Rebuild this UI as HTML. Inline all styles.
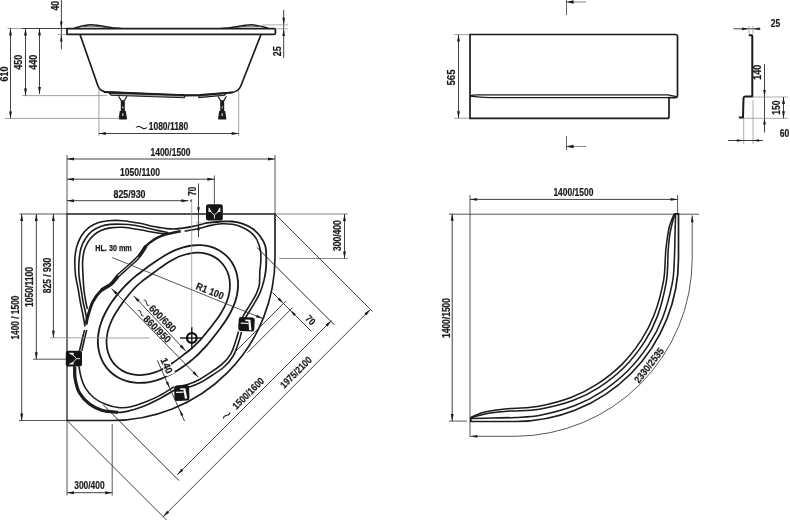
<!DOCTYPE html>
<html><head><meta charset="utf-8"><title>Drawing</title>
<style>
html,body{margin:0;padding:0;background:#fff;}
svg{display:block;will-change:transform;font-family:"Liberation Sans",sans-serif;}
text{fill:#1a1a1a;}
</style></head><body>
<svg width="790" height="520" viewBox="0 0 790 520">
<rect width="790" height="520" fill="#fff"/>
<path d="M67,28.6 H274 Q275.4,28.6 275.4,29.8 V33.2 Q275.4,34.4 274,34.4 H67 Z" fill="none" stroke="#1c1c1c" stroke-width="1.8" />
<path d="M221,28.4 C234,28.2 241,24.8 251.5,24.8 C258,24.8 262.5,26.6 268.5,28.4" fill="none" stroke="#1c1c1c" stroke-width="1.4" />
<path d="M236,27.6 C243,26.2 252,25.8 259,26.6" fill="none" stroke="#444" stroke-width="0.9" />
<path d="M121.4,28.4 C108.4,28.2 101.4,24.8 90.9,24.8 C84.4,24.8 79.9,26.6 73.9,28.4" fill="none" stroke="#1c1c1c" stroke-width="1.4" />
<path d="M106.4,27.6 C99.4,26.2 90.4,25.8 83.4,26.6" fill="none" stroke="#444" stroke-width="0.9" />
<path d="M80,34.5 L97.8,85.5 Q99.8,91.5 107,92.2 L184.6,95.6 L200,95.4 L231,92.6 Q238.5,91.8 240.8,86 L261,34.5" fill="none" stroke="#1c1c1c" stroke-width="1.7" />
<path d="M109,93 L111,95.2 L184.3,97.8 L185.2,95.2 Z" fill="#999" stroke="#1c1c1c" stroke-width="1.1" />
<path d="M198.5,95.4 L199,97.6 L224.5,95.2 L226.5,93.2 Z" fill="#999" stroke="#1c1c1c" stroke-width="1.1" />
<path d="M104,92 L184.8,95.1 L200,95 L233,92.4" fill="none" stroke="#1c1c1c" stroke-width="1.9" />
<path d="M118.6,96.3 L121.2,100.6 M127.0,96.3 L124.4,100.6" fill="none" stroke="#1c1c1c" stroke-width="1.2" />
<rect x="120.8" y="100.2" width="4" height="11.2" fill="#1c1c1c"/>
<rect x="122.3" y="106.3" width="1" height="2.2" fill="#ddd"/>
<path d="M119.8,111 h6 l1,6.6 v2 h-8 v-2 z" fill="#1c1c1c"/>
<rect x="122.2" y="113.3" width="1.2" height="2.6" fill="#ddd"/>
<path d="M218.0,96.3 L220.6,100.6 M226.4,96.3 L223.8,100.6" fill="none" stroke="#1c1c1c" stroke-width="1.2" />
<rect x="220.2" y="100.2" width="4" height="11.2" fill="#1c1c1c"/>
<rect x="221.7" y="106.3" width="1" height="2.2" fill="#ddd"/>
<path d="M219.2,111 h6 l1,6.6 v2 h-8 v-2 z" fill="#1c1c1c"/>
<rect x="221.6" y="113.3" width="1.2" height="2.6" fill="#ddd"/>
<line x1="7.50" y1="28.50" x2="22.00" y2="28.50" stroke="#8a8a8a" stroke-width="0.8"/>
<line x1="21.50" y1="28.50" x2="67.00" y2="28.50" stroke="#2c2c2c" stroke-width="0.9"/>
<line x1="22.00" y1="95.60" x2="107.00" y2="95.60" stroke="#8a8a8a" stroke-width="0.8"/>
<line x1="5.00" y1="118.40" x2="120.00" y2="118.40" stroke="#8a8a8a" stroke-width="0.8"/>
<line x1="10.50" y1="28.50" x2="10.50" y2="118.40" stroke="#2c2c2c" stroke-width="0.9"/>
<polygon points="10.50,28.50 11.95,35.50 9.05,35.50" fill="#1c1c1c"/>
<polygon points="10.50,118.40 9.05,111.40 11.95,111.40" fill="#1c1c1c"/>
<line x1="25.50" y1="28.50" x2="25.50" y2="95.60" stroke="#2c2c2c" stroke-width="0.9"/>
<polygon points="25.50,28.50 26.95,35.50 24.05,35.50" fill="#1c1c1c"/>
<polygon points="25.50,95.60 24.05,88.60 26.95,88.60" fill="#1c1c1c"/>
<line x1="39.50" y1="28.50" x2="39.50" y2="94.00" stroke="#2c2c2c" stroke-width="0.9"/>
<polygon points="39.50,28.50 40.95,35.50 38.05,35.50" fill="#1c1c1c"/>
<polygon points="39.50,94.00 38.05,87.00 40.95,87.00" fill="#1c1c1c"/>
<text transform="translate(4.70,74.00) rotate(-90.0)" text-anchor="middle" font-size="10" font-weight="bold" stroke="#222" stroke-width="0.2" dy="0.36em" textLength="15.0" lengthAdjust="spacingAndGlyphs">610</text>
<text transform="translate(18.80,62.30) rotate(-90.0)" text-anchor="middle" font-size="10" font-weight="bold" stroke="#222" stroke-width="0.2" dy="0.36em" textLength="15.0" lengthAdjust="spacingAndGlyphs">450</text>
<text transform="translate(33.20,62.30) rotate(-90.0)" text-anchor="middle" font-size="10" font-weight="bold" stroke="#222" stroke-width="0.2" dy="0.36em" textLength="15.0" lengthAdjust="spacingAndGlyphs">440</text>
<line x1="61.40" y1="0.00" x2="61.40" y2="49.30" stroke="#2c2c2c" stroke-width="0.9"/>
<polygon points="61.30,28.40 60.00,21.40 62.60,21.40" fill="#1c1c1c"/>
<polygon points="61.30,34.60 62.60,41.60 60.00,41.60" fill="#1c1c1c"/>
<line x1="58.00" y1="34.50" x2="67.00" y2="34.50" stroke="#8a8a8a" stroke-width="0.8"/>
<text transform="translate(55.60,5.70) rotate(-90.0)" text-anchor="middle" font-size="10" font-weight="bold" stroke="#222" stroke-width="0.2" dy="0.36em" textLength="9.5" lengthAdjust="spacingAndGlyphs">40</text>
<line x1="283.70" y1="10.00" x2="283.70" y2="58.00" stroke="#2c2c2c" stroke-width="0.9"/>
<polygon points="283.70,24.90 282.40,17.70 285.00,17.70" fill="#1c1c1c"/>
<polygon points="283.70,28.90 285.00,36.10 282.40,36.10" fill="#1c1c1c"/>
<line x1="262.00" y1="24.90" x2="288.00" y2="24.90" stroke="#8a8a8a" stroke-width="0.7"/>
<line x1="276.50" y1="28.70" x2="288.00" y2="28.70" stroke="#8a8a8a" stroke-width="0.7"/>
<text transform="translate(277.50,51.30) rotate(-90.0)" text-anchor="middle" font-size="10" font-weight="bold" stroke="#222" stroke-width="0.2" dy="0.36em" textLength="10.0" lengthAdjust="spacingAndGlyphs">25</text>
<line x1="98.90" y1="88.00" x2="98.90" y2="136.00" stroke="#8a8a8a" stroke-width="0.8"/>
<line x1="238.70" y1="90.00" x2="238.70" y2="136.00" stroke="#8a8a8a" stroke-width="0.8"/>
<line x1="98.90" y1="133.50" x2="238.70" y2="133.50" stroke="#2c2c2c" stroke-width="0.9"/>
<polygon points="98.90,133.50 105.90,132.05 105.90,134.95" fill="#1c1c1c"/>
<polygon points="238.70,133.50 231.70,134.95 231.70,132.05" fill="#1c1c1c"/>
<text transform="translate(168.50,126.80) rotate(0.0)" text-anchor="middle" font-size="10" font-weight="bold" stroke="#222" stroke-width="0.2" dy="0.36em" textLength="39.5" lengthAdjust="spacingAndGlyphs">1080/1180</text>
<text transform="translate(141.30,127.60) rotate(0.0) scale(1.18,1.96)" text-anchor="middle" font-size="20" font-weight="normal" dy="0.345em" style="fill:#222" stroke="#fff" stroke-width="0.65">~</text>
<path d="M67,214 H275 V257 A163,163 0 0 1 112,420.5 H67" fill="none" stroke="#1c1c1c" stroke-width="1.65" />
<line x1="67.00" y1="213.30" x2="67.00" y2="421.20" stroke="#141414" stroke-width="1.2"/>
<path d="M229.67,314.00 C228.41,316.31 227.05,318.46 225.74,320.51 C224.42,322.55 223.07,324.44 221.76,326.27 C220.46,328.10 219.16,329.80 217.90,331.46 C216.64,333.12 215.41,334.70 214.19,336.25 C212.97,337.79 211.78,339.28 210.58,340.75 C209.37,342.22 208.18,343.65 206.95,345.06 C205.72,346.47 204.49,347.85 203.21,349.21 C201.93,350.57 200.63,351.90 199.28,353.22 C197.92,354.54 196.53,355.83 195.09,357.11 C193.64,358.39 192.15,359.65 190.59,360.91 C189.03,362.18 187.43,363.43 185.73,364.68 C184.04,365.93 182.29,367.19 180.42,368.44 C178.56,369.68 176.62,370.94 174.55,372.15 C172.48,373.36 170.31,374.59 168.00,375.71 C165.69,376.83 163.25,377.94 160.69,378.88 C158.13,379.82 155.42,380.70 152.63,381.34 C149.84,381.98 146.90,382.50 143.95,382.72 C141.00,382.94 137.93,382.97 134.94,382.65 C131.94,382.34 128.88,381.76 125.99,380.85 C123.11,379.94 120.23,378.71 117.61,377.19 C114.99,375.66 112.48,373.79 110.29,371.71 C108.10,369.62 106.12,367.20 104.47,364.66 C102.83,362.12 101.47,359.30 100.44,356.45 C99.41,353.60 98.71,350.56 98.29,347.57 C97.87,344.58 97.80,341.49 97.94,338.51 C98.08,335.54 98.54,332.55 99.14,329.72 C99.74,326.88 100.60,324.11 101.54,321.49 C102.47,318.87 103.60,316.37 104.75,314.00 C105.90,311.63 107.17,309.41 108.43,307.29 C109.70,305.17 111.03,303.19 112.34,301.30 C113.66,299.40 115.00,297.63 116.33,295.92 C117.66,294.21 118.99,292.60 120.33,291.04 C121.67,289.49 123.01,288.01 124.37,286.58 C125.72,285.15 127.08,283.79 128.46,282.47 C129.84,281.15 131.24,279.88 132.65,278.65 C134.07,277.42 135.50,276.24 136.95,275.07 C138.41,273.90 139.88,272.78 141.38,271.64 C142.89,270.51 144.40,269.40 145.97,268.26 C147.54,267.12 149.12,265.98 150.79,264.80 C152.45,263.63 154.14,262.43 155.95,261.20 C157.76,259.98 159.62,258.71 161.63,257.46 C163.64,256.21 165.74,254.91 168.00,253.70 C170.26,252.49 172.65,251.25 175.19,250.18 C177.73,249.12 180.43,248.08 183.23,247.29 C186.02,246.50 188.99,245.82 191.98,245.47 C194.97,245.11 198.10,244.95 201.16,245.15 C204.21,245.35 207.35,245.83 210.31,246.67 C213.26,247.51 216.21,248.70 218.88,250.20 C221.55,251.70 224.10,253.58 226.31,255.69 C228.52,257.80 230.51,260.26 232.13,262.86 C233.75,265.45 235.06,268.35 236.02,271.26 C236.97,274.18 237.57,277.30 237.87,280.35 C238.16,283.41 238.09,286.56 237.80,289.58 C237.51,292.59 236.88,295.61 236.13,298.45 C235.37,301.30 234.34,304.05 233.27,306.65 C232.19,309.24 230.92,311.69 229.67,314.00Z" fill="none" stroke="#1c1c1c" stroke-width="1.85" />
<path d="M220.45,314.00 C219.22,315.97 217.92,317.77 216.70,319.49 C215.47,321.20 214.25,322.77 213.08,324.29 C211.92,325.81 210.80,327.21 209.71,328.59 C208.61,329.97 207.58,331.28 206.54,332.56 C205.50,333.84 204.50,335.08 203.48,336.29 C202.46,337.51 201.45,338.69 200.40,339.84 C199.36,340.99 198.30,342.12 197.21,343.21 C196.12,344.30 195.00,345.36 193.84,346.41 C192.69,347.45 191.51,348.46 190.29,349.48 C189.07,350.49 187.83,351.48 186.54,352.50 C185.25,353.53 183.94,354.54 182.56,355.61 C181.18,356.67 179.76,357.75 178.24,358.88 C176.73,360.01 175.16,361.18 173.45,362.36 C171.74,363.54 169.95,364.78 168.00,365.95 C166.05,367.13 163.98,368.35 161.76,369.42 C159.53,370.50 157.15,371.56 154.67,372.40 C152.19,373.23 149.54,373.98 146.86,374.42 C144.18,374.86 141.35,375.13 138.60,375.05 C135.85,374.96 133.01,374.62 130.35,373.92 C127.69,373.23 125.03,372.20 122.65,370.87 C120.26,369.54 117.99,367.86 116.05,365.95 C114.11,364.05 112.39,361.80 111.02,359.44 C109.65,357.08 108.58,354.44 107.84,351.80 C107.10,349.16 106.70,346.33 106.57,343.58 C106.44,340.84 106.65,338.01 107.04,335.33 C107.44,332.65 108.13,329.98 108.92,327.49 C109.70,324.99 110.72,322.59 111.75,320.34 C112.78,318.09 113.96,315.98 115.11,314.00 C116.25,312.02 117.46,310.18 118.62,308.44 C119.79,306.69 120.95,305.08 122.08,303.52 C123.21,301.96 124.30,300.51 125.39,299.09 C126.47,297.67 127.52,296.33 128.58,295.02 C129.64,293.71 130.68,292.45 131.76,291.23 C132.83,290.00 133.90,288.83 135.01,287.69 C136.12,286.55 137.25,285.46 138.41,284.41 C139.57,283.35 140.76,282.35 141.97,281.36 C143.18,280.37 144.42,279.43 145.68,278.49 C146.95,277.54 148.23,276.62 149.54,275.67 C150.85,274.71 152.18,273.76 153.57,272.75 C154.95,271.74 156.36,270.70 157.87,269.60 C159.37,268.51 160.92,267.35 162.61,266.17 C164.30,265.00 166.07,263.75 168.00,262.54 C169.93,261.34 171.99,260.08 174.20,258.96 C176.42,257.83 178.79,256.70 181.28,255.80 C183.77,254.90 186.44,254.08 189.15,253.57 C191.85,253.06 194.71,252.71 197.50,252.74 C200.29,252.76 203.19,253.04 205.89,253.69 C208.60,254.35 211.31,255.33 213.74,256.64 C216.17,257.95 218.49,259.63 220.47,261.53 C222.44,263.44 224.19,265.71 225.57,268.09 C226.95,270.47 228.03,273.15 228.75,275.83 C229.48,278.51 229.85,281.39 229.93,284.17 C230.02,286.96 229.75,289.83 229.29,292.55 C228.83,295.27 228.05,297.97 227.18,300.49 C226.31,303.01 225.19,305.43 224.07,307.68 C222.95,309.93 221.68,312.03 220.45,314.00Z" fill="none" stroke="#1c1c1c" stroke-width="1.75" />
<path d="M85.00,326.50 C84.67,324.58 83.80,319.17 83.00,315.00 C82.20,310.83 80.98,305.67 80.20,301.50 C79.42,297.33 79.08,294.42 78.30,290.00 C77.52,285.58 76.08,279.67 75.50,275.00 C74.92,270.33 74.83,265.50 74.80,262.00 C74.77,258.50 74.93,256.72 75.30,254.00 C75.67,251.28 76.00,248.70 77.00,245.70 C78.00,242.70 79.30,239.05 81.30,236.00 C83.30,232.95 86.10,229.63 89.00,227.40 C91.90,225.17 95.48,223.72 98.70,222.60 C101.92,221.48 104.30,221.02 108.30,220.70 C112.30,220.38 117.42,220.27 122.70,220.70 C127.98,221.13 135.07,222.38 140.00,223.30 C144.93,224.22 148.97,225.48 152.30,226.20 C155.63,226.92 157.62,227.20 160.00,227.60 C162.38,228.00 164.32,228.37 166.60,228.60 C168.88,228.83 170.97,229.08 173.70,229.00 C176.43,228.92 179.77,228.53 183.00,228.10 C186.23,227.67 189.27,227.25 193.10,226.40 C196.93,225.55 203.85,223.57 206.00,223.00" fill="none" stroke="#1c1c1c" stroke-width="1.6" />
<path d="M87.00,324.60 C86.83,323.00 86.67,318.85 86.00,315.00 C85.33,311.15 83.80,305.67 83.00,301.50 C82.20,297.33 81.87,294.42 81.20,290.00 C80.53,285.58 79.37,279.67 79.00,275.00 C78.63,270.33 78.68,266.42 79.00,262.00 C79.32,257.58 79.87,252.33 80.90,248.50 C81.93,244.67 83.37,241.88 85.20,239.00 C87.03,236.12 89.33,233.30 91.90,231.20 C94.47,229.10 97.55,227.53 100.60,226.40 C103.65,225.27 106.52,224.77 110.20,224.40 C113.88,224.03 118.73,224.07 122.70,224.20 C126.67,224.33 130.12,224.62 134.00,225.20 C137.88,225.78 142.17,226.83 146.00,227.70 C149.83,228.57 153.28,229.57 157.00,230.40 C160.72,231.23 166.42,232.32 168.30,232.70" fill="none" stroke="#1c1c1c" stroke-width="1.6" />
<path d="M87.30,309.00 C87.00,307.50 86.05,303.17 85.50,300.00 C84.95,296.83 84.42,294.17 84.00,290.00 C83.58,285.83 83.23,279.67 83.00,275.00 C82.77,270.33 82.40,266.08 82.60,262.00 C82.80,257.92 83.28,253.87 84.20,250.50 C85.12,247.13 86.50,244.37 88.10,241.80 C89.70,239.23 91.57,237.02 93.80,235.10 C96.03,233.18 98.77,231.50 101.50,230.30 C104.23,229.10 106.67,228.40 110.20,227.90 C113.73,227.40 117.73,226.98 122.70,227.30 C127.67,227.62 135.12,229.02 140.00,229.80 C144.88,230.58 148.17,231.33 152.00,232.00 C155.83,232.67 160.28,233.57 163.00,233.80 C165.72,234.03 167.42,233.47 168.30,233.40" fill="none" stroke="#1c1c1c" stroke-width="1.6" />
<path d="M84.60,330.00 C84.33,331.00 83.73,333.05 83.00,336.00 C82.27,338.95 80.78,345.20 80.20,347.70 C79.62,350.20 79.62,350.45 79.50,351.00" fill="none" stroke="#1c1c1c" stroke-width="1.6" />
<path d="M86.80,330.00 C86.53,331.00 85.97,332.83 85.20,336.00 C84.43,339.17 82.73,346.50 82.20,349.00 C81.67,351.50 82.03,350.67 82.00,351.00" fill="none" stroke="#1c1c1c" stroke-width="1.6" />
<path d="M180.70,231.20 C179.08,231.53 174.10,232.45 171.00,233.20 C167.90,233.95 165.05,234.55 162.10,235.70 C159.15,236.85 155.98,238.38 153.30,240.10 C150.62,241.82 148.47,243.18 146.00,246.00 C143.53,248.82 139.75,255.17 138.50,257.00" fill="none" stroke="#1c1c1c" stroke-width="2.5" />
<path d="M146.91,246.62 C145.65,248.47 142.20,254.35 139.34,257.71 C136.48,261.08 133.09,263.73 129.74,266.81 C126.40,269.89 122.28,273.17 119.28,276.18 C116.27,279.18 114.61,282.38 111.71,284.84 C108.81,287.30 103.52,289.92 101.88,290.94" fill="none" stroke="#1c1c1c" stroke-width="1.4" />
<path d="M145.09,245.38 C143.85,247.20 140.47,252.99 137.66,256.29 C134.86,259.59 131.58,262.13 128.26,265.19 C124.93,268.25 120.72,271.63 117.72,274.62 C114.73,277.62 113.12,280.75 110.29,283.16 C107.45,285.57 102.32,288.08 100.72,289.06" fill="none" stroke="#1c1c1c" stroke-width="1.4" />
<path d="M111.00,284.00 C109.38,285.00 104.35,287.08 101.30,290.00 C98.25,292.92 94.93,297.33 92.70,301.50 C90.47,305.67 89.02,311.15 87.90,315.00 C86.78,318.85 86.32,323.00 86.00,324.60" fill="none" stroke="#1c1c1c" stroke-width="1.8" />
<path d="M118.50,275.80 C117.25,277.25 113.87,282.05 111.00,284.50 C108.13,286.95 104.30,287.67 101.30,290.50 C98.30,293.33 95.17,297.42 93.00,301.50 C90.83,305.58 89.42,311.42 88.30,315.00 C87.18,318.58 86.63,321.67 86.30,323.00" fill="none" stroke="#1c1c1c" stroke-width="2.8" />
<path d="M206.00,223.00 C208.58,222.75 217.12,221.75 221.50,221.50 C225.88,221.25 228.72,221.12 232.30,221.50 C235.88,221.88 239.67,222.63 243.00,223.80 C246.33,224.97 249.47,226.47 252.30,228.50 C255.13,230.53 257.83,233.08 260.00,236.00 C262.17,238.92 264.25,242.25 265.30,246.00 C266.35,249.75 266.22,254.50 266.30,258.50 C266.38,262.50 266.10,266.75 265.80,270.00 C265.50,273.25 264.72,276.67 264.50,278.00" fill="none" stroke="#1c1c1c" stroke-width="1.8" />
<path d="M184.60,231.20 C186.92,230.75 194.13,229.47 198.50,228.50 C202.87,227.53 206.97,226.18 210.80,225.40 C214.63,224.62 217.92,223.98 221.50,223.80 C225.08,223.62 228.97,223.77 232.30,224.30 C235.63,224.83 238.42,225.67 241.50,227.00 C244.58,228.33 248.22,230.13 250.80,232.30 C253.38,234.47 255.38,236.92 257.00,240.00 C258.62,243.08 259.87,247.22 260.50,250.80 C261.13,254.38 260.92,257.97 260.80,261.50 C260.68,265.03 260.05,268.08 259.80,272.00 C259.55,275.92 259.93,281.27 259.30,285.00 C258.67,288.73 257.45,291.27 256.00,294.40 C254.55,297.53 252.73,300.20 250.60,303.80 C248.47,307.40 245.13,312.30 243.20,316.00 C241.27,319.70 239.70,324.33 239.00,326.00" fill="none" stroke="#1c1c1c" stroke-width="1.6" />
<path d="M264.50,278.00 C264.20,279.17 263.57,282.27 262.70,285.00 C261.83,287.73 260.75,291.27 259.30,294.40 C257.85,297.53 256.13,300.20 254.00,303.80 C251.87,307.40 248.67,312.47 246.50,316.00 C244.33,319.53 241.92,323.50 241.00,325.00" fill="none" stroke="#1c1c1c" stroke-width="1.6" />
<path d="M238.50,331.50 C238.08,332.92 237.28,336.28 236.00,340.00 C234.72,343.72 233.22,349.70 230.80,353.80 C228.38,357.90 225.63,361.00 221.50,364.60 C217.37,368.20 209.83,372.83 206.00,375.40 C202.17,377.97 201.33,378.57 198.50,380.00 C195.67,381.43 192.42,382.92 189.00,384.00 C185.58,385.08 179.83,386.08 178.00,386.50" fill="none" stroke="#1c1c1c" stroke-width="1.6" />
<path d="M241.50,332.00 C241.08,333.50 240.33,337.08 239.00,341.00 C237.67,344.92 236.00,351.17 233.50,355.50 C231.00,359.83 228.25,363.25 224.00,367.00 C219.75,370.75 212.00,375.37 208.00,378.00 C204.00,380.63 203.00,381.33 200.00,382.80 C197.00,384.27 193.33,385.77 190.00,386.80 C186.67,387.83 181.67,388.63 180.00,389.00" fill="none" stroke="#1c1c1c" stroke-width="1.6" />
<path d="M173.80,387.00 C171.50,388.40 164.63,392.93 160.00,395.40 C155.37,397.87 150.85,399.90 146.00,401.80 C141.15,403.70 135.53,405.85 130.90,406.80 C126.27,407.75 122.42,407.92 118.20,407.50 C113.98,407.08 109.60,405.88 105.60,404.30 C101.60,402.72 97.58,400.75 94.20,398.00 C90.82,395.25 87.52,391.38 85.30,387.80 C83.08,384.22 81.95,380.08 80.90,376.50 C79.85,372.92 79.32,368.00 79.00,366.30" fill="none" stroke="#1c1c1c" stroke-width="1.6" />
<path d="M175.40,389.50 C172.83,391.00 165.52,395.62 160.00,398.50 C154.48,401.38 147.80,404.67 142.30,406.80 C136.80,408.93 131.65,410.35 127.00,411.30 C122.35,412.25 118.60,412.62 114.40,412.50 C110.20,412.38 106.03,411.97 101.80,410.60 C97.57,409.23 92.80,407.23 89.00,404.30 C85.20,401.37 81.40,397.22 79.00,393.00 C76.60,388.78 75.43,383.50 74.60,379.00 C73.77,374.50 74.10,368.17 74.00,366.00" fill="none" stroke="#1c1c1c" stroke-width="1.7" />
<path d="M118.00,412.20 C115.30,411.87 106.58,411.60 101.80,410.20 C97.02,408.80 93.02,406.70 89.30,403.80 C85.58,400.90 81.83,396.93 79.50,392.80 C77.17,388.67 76.08,383.30 75.30,379.00 C74.52,374.70 74.88,369.00 74.80,367.00" fill="none" stroke="#1c1c1c" stroke-width="3.0" />
<g transform="translate(214.4,212.4) rotate(0.0)">
<rect x="-8.4" y="-8.1" width="16.8" height="16.2" rx="2.3" fill="#141414"/>
<path d="M0,6.3 V2.6 L-3.6,-0.6 M0,2.6 L3.6,-0.6" fill="none" stroke="#f0f0f0" stroke-width="0.95"/>
<path d="M-5.9,-4.6 L-5,-4.6 L-2.9,-0.3 L-5.9,-0.3 Z M5.9,-4.6 L5,-4.6 L2.9,-0.3 L5.9,-0.3 Z" fill="#f0f0f0"/>
<circle cx="0" cy="-1.3" r="2.1" fill="#141414"/>
</g>
<g transform="translate(73.9,358.7) rotate(-90.0)">
<rect x="-7.9" y="-8.1" width="15.8" height="16.2" rx="2.3" fill="#141414"/>
<path d="M0,6.3 V2.6 L-3.6,-0.6 M0,2.6 L3.6,-0.6" fill="none" stroke="#f0f0f0" stroke-width="0.95"/>
<path d="M-5.9,-4.6 L-5,-4.6 L-2.9,-0.3 L-5.9,-0.3 Z M5.9,-4.6 L5,-4.6 L2.9,-0.3 L5.9,-0.3 Z" fill="#f0f0f0"/>
<circle cx="0" cy="-1.3" r="2.1" fill="#141414"/>
</g>
<g transform="translate(246.5,324.3) rotate(3.0)">
<rect x="-8.0" y="-7.0" width="16.0" height="14.0" rx="2.3" fill="#141414"/>
<path d="M-1.4,-4.7 H3.7 L5.3,5.8 H2.9 L1.7,-3.1 H-1.4 Z" fill="#f4f4f4"/>
<path d="M-5.8,-0.9 H1.9" fill="none" stroke="#f4f4f4" stroke-width="1.2"/>
</g>
<g transform="translate(181.8,393.0) rotate(-2.0)">
<rect x="-7.5" y="-7.8" width="15.0" height="15.6" rx="2.3" fill="#141414"/>
<path d="M-1.4,-4.7 H3.7 L5.3,5.8 H2.9 L1.7,-3.1 H-1.4 Z" fill="#f4f4f4"/>
<path d="M-5.8,-0.9 H1.9" fill="none" stroke="#f4f4f4" stroke-width="1.2"/>
</g>
<circle cx="191.8" cy="338" r="4.8" fill="none" stroke="#111" stroke-width="2.3"/>
<line x1="180.00" y1="338.00" x2="202.00" y2="338.00" stroke="#111" stroke-width="1.4"/>
<line x1="191.80" y1="327.00" x2="191.80" y2="349.00" stroke="#111" stroke-width="1.4"/>
<line x1="100.00" y1="338.00" x2="149.70" y2="338.00" stroke="#8a8a8a" stroke-width="0.8"/>
<line x1="191.70" y1="199.00" x2="191.70" y2="328.00" stroke="#8c8c8c" stroke-width="0.75"/>
<line x1="67.00" y1="155.00" x2="67.00" y2="214.00" stroke="#2c2c2c" stroke-width="0.8"/>
<line x1="67.00" y1="159.00" x2="275.00" y2="159.00" stroke="#2c2c2c" stroke-width="0.9"/>
<polygon points="67.00,159.00 74.00,157.55 74.00,160.45" fill="#1c1c1c"/>
<polygon points="275.00,159.00 268.00,160.45 268.00,157.55" fill="#1c1c1c"/>
<line x1="275.00" y1="155.00" x2="275.00" y2="214.00" stroke="#2c2c2c" stroke-width="0.8"/>
<text transform="translate(170.50,152.30) rotate(0.0)" text-anchor="middle" font-size="10" font-weight="bold" stroke="#222" stroke-width="0.2" dy="0.36em" textLength="40.0" lengthAdjust="spacingAndGlyphs">1400/1500</text>
<line x1="67.00" y1="179.20" x2="214.40" y2="179.20" stroke="#2c2c2c" stroke-width="0.9"/>
<polygon points="67.00,179.20 74.00,177.75 74.00,180.65" fill="#1c1c1c"/>
<polygon points="214.40,179.20 207.40,180.65 207.40,177.75" fill="#1c1c1c"/>
<line x1="214.40" y1="175.40" x2="214.40" y2="204.30" stroke="#2c2c2c" stroke-width="0.8"/>
<text transform="translate(140.00,172.50) rotate(0.0)" text-anchor="middle" font-size="10" font-weight="bold" stroke="#222" stroke-width="0.2" dy="0.36em" textLength="40.0" lengthAdjust="spacingAndGlyphs">1050/1100</text>
<line x1="67.00" y1="200.70" x2="188.40" y2="200.70" stroke="#2c2c2c" stroke-width="0.9"/>
<polygon points="67.00,200.70 74.00,199.25 74.00,202.15" fill="#1c1c1c"/>
<polygon points="188.40,200.70 181.40,202.15 181.40,199.25" fill="#1c1c1c"/>
<line x1="190.90" y1="199.70" x2="190.90" y2="201.80" stroke="#222" stroke-width="1.2"/>
<text transform="translate(129.50,194.00) rotate(0.0)" text-anchor="middle" font-size="10" font-weight="bold" stroke="#222" stroke-width="0.2" dy="0.36em" textLength="32.0" lengthAdjust="spacingAndGlyphs">825/930</text>
<line x1="198.50" y1="183.50" x2="198.50" y2="237.30" stroke="#2c2c2c" stroke-width="0.9"/>
<polygon points="198.50,213.80 197.15,207.30 199.85,207.30" fill="#1c1c1c"/>
<polygon points="198.50,223.80 199.85,230.30 197.15,230.30" fill="#1c1c1c"/>
<line x1="196.00" y1="222.80" x2="201.00" y2="222.80" stroke="#8a8a8a" stroke-width="0.7"/>
<text transform="translate(191.90,191.20) rotate(-90.0)" text-anchor="middle" font-size="10" font-weight="bold" stroke="#222" stroke-width="0.2" dy="0.36em" textLength="9.0" lengthAdjust="spacingAndGlyphs">70</text>
<line x1="19.50" y1="214.00" x2="67.00" y2="214.00" stroke="#2c2c2c" stroke-width="0.8"/>
<line x1="19.00" y1="420.50" x2="67.00" y2="420.50" stroke="#2c2c2c" stroke-width="0.8"/>
<line x1="21.70" y1="214.00" x2="21.70" y2="420.50" stroke="#2c2c2c" stroke-width="0.9"/>
<polygon points="21.70,214.00 23.15,221.00 20.25,221.00" fill="#1c1c1c"/>
<polygon points="21.70,420.50 20.25,413.50 23.15,413.50" fill="#1c1c1c"/>
<text transform="translate(15.20,317.60) rotate(-90.0)" text-anchor="middle" font-size="10" font-weight="bold" stroke="#222" stroke-width="0.2" dy="0.36em" textLength="44.0" lengthAdjust="spacingAndGlyphs">1400 / 1500</text>
<line x1="36.30" y1="214.00" x2="36.30" y2="359.20" stroke="#2c2c2c" stroke-width="0.9"/>
<polygon points="36.30,214.00 37.75,221.00 34.85,221.00" fill="#1c1c1c"/>
<polygon points="36.30,359.20 34.85,352.20 37.75,352.20" fill="#1c1c1c"/>
<line x1="33.00" y1="359.20" x2="66.00" y2="359.20" stroke="#2c2c2c" stroke-width="0.8"/>
<text transform="translate(29.20,287.00) rotate(-90.0)" text-anchor="middle" font-size="10" font-weight="bold" stroke="#222" stroke-width="0.2" dy="0.36em" textLength="40.0" lengthAdjust="spacingAndGlyphs">1050/1100</text>
<line x1="53.40" y1="214.00" x2="53.40" y2="337.80" stroke="#2c2c2c" stroke-width="0.9"/>
<polygon points="53.40,214.00 54.85,221.00 51.95,221.00" fill="#1c1c1c"/>
<polygon points="53.40,337.80 51.95,330.80 54.85,330.80" fill="#1c1c1c"/>
<line x1="50.00" y1="337.80" x2="100.00" y2="337.80" stroke="#8a8a8a" stroke-width="0.8"/>
<text transform="translate(47.30,275.50) rotate(-90.0)" text-anchor="middle" font-size="10" font-weight="bold" stroke="#222" stroke-width="0.2" dy="0.36em" textLength="35.7" lengthAdjust="spacingAndGlyphs">825 / 930</text>
<line x1="67.00" y1="420.50" x2="67.00" y2="495.50" stroke="#2c2c2c" stroke-width="0.8"/>
<line x1="112.20" y1="424.00" x2="112.20" y2="495.50" stroke="#2c2c2c" stroke-width="0.8"/>
<line x1="67.00" y1="492.70" x2="112.20" y2="492.70" stroke="#2c2c2c" stroke-width="0.9"/>
<polygon points="67.00,492.70 74.00,491.25 74.00,494.15" fill="#1c1c1c"/>
<polygon points="112.20,492.70 105.20,494.15 105.20,491.25" fill="#1c1c1c"/>
<text transform="translate(89.40,485.20) rotate(0.0)" text-anchor="middle" font-size="10" font-weight="bold" stroke="#222" stroke-width="0.2" dy="0.36em" textLength="30.4" lengthAdjust="spacingAndGlyphs">300/400</text>
<line x1="276.00" y1="214.00" x2="348.00" y2="214.00" stroke="#666" stroke-width="0.8"/>
<line x1="279.20" y1="258.50" x2="348.00" y2="258.50" stroke="#666" stroke-width="0.8"/>
<line x1="344.50" y1="214.00" x2="344.50" y2="258.50" stroke="#2c2c2c" stroke-width="0.9"/>
<polygon points="344.50,214.00 345.95,221.00 343.05,221.00" fill="#1c1c1c"/>
<polygon points="344.50,258.50 343.05,251.50 345.95,251.50" fill="#1c1c1c"/>
<text transform="translate(337.80,235.60) rotate(-90.0)" text-anchor="middle" font-size="10" font-weight="bold" stroke="#222" stroke-width="0.2" dy="0.36em" textLength="30.8" lengthAdjust="spacingAndGlyphs">300/400</text>
<line x1="275.50" y1="214.50" x2="372.50" y2="311.50" stroke="#2c2c2c" stroke-width="0.9"/>
<line x1="68.00" y1="421.50" x2="166.50" y2="520.00" stroke="#2c2c2c" stroke-width="0.9"/>
<line x1="163.15" y1="516.65" x2="370.40" y2="309.40" stroke="#2c2c2c" stroke-width="0.9"/>
<polygon points="163.15,516.65 167.07,510.67 169.13,512.73" fill="#1c1c1c"/>
<polygon points="370.40,309.40 366.48,315.38 364.42,313.32" fill="#1c1c1c"/>
<text transform="translate(295.80,372.20) rotate(-45.0)" text-anchor="middle" font-size="10" font-weight="bold" stroke="#222" stroke-width="0.2" dy="0.36em" textLength="40.0" lengthAdjust="spacingAndGlyphs">1975/2100</text>
<line x1="257.00" y1="247.50" x2="334.50" y2="325.00" stroke="#222" stroke-width="0.95"/>
<line x1="103.00" y1="404.60" x2="179.00" y2="480.60" stroke="#222" stroke-width="0.95"/>
<line x1="177.30" y1="474.70" x2="331.50" y2="320.50" stroke="#2c2c2c" stroke-width="0.9"/>
<polygon points="177.30,474.70 181.22,468.72 183.28,470.78" fill="#1c1c1c"/>
<polygon points="331.50,320.50 327.58,326.48 325.52,324.42" fill="#1c1c1c"/>
<text transform="translate(248.10,393.20) rotate(-45.0)" text-anchor="middle" font-size="10" font-weight="bold" stroke="#222" stroke-width="0.2" dy="0.36em" textLength="40.0" lengthAdjust="spacingAndGlyphs">1500/1600</text>
<text transform="translate(226.20,415.20) rotate(-45.0) scale(1.05,1.75)" text-anchor="middle" font-size="20" font-weight="normal" dy="0.345em" style="fill:#222" stroke="#fff" stroke-width="0.65">~</text>
<line x1="233.50" y1="353.50" x2="286.20" y2="300.80" stroke="#2c2c2c" stroke-width="0.9"/>
<line x1="247.50" y1="352.70" x2="292.60" y2="307.60" stroke="#2c2c2c" stroke-width="0.9"/>
<line x1="272.50" y1="292.50" x2="311.30" y2="331.30" stroke="#2c2c2c" stroke-width="0.9"/>
<polygon points="283.50,303.50 277.70,299.68 279.68,297.70" fill="#1c1c1c"/>
<polygon points="290.10,310.10 295.90,313.92 293.92,315.90" fill="#1c1c1c"/>
<text transform="translate(310.60,320.00) rotate(45.0)" text-anchor="middle" font-size="10" font-weight="bold" stroke="#222" stroke-width="0.2" dy="0.36em" textLength="9.5" lengthAdjust="spacingAndGlyphs">70</text>
<line x1="112.00" y1="257.50" x2="262.80" y2="318.60" stroke="#2c2c2c" stroke-width="0.8"/>
<polygon points="262.80,318.60 255.79,317.26 256.84,314.67" fill="#1c1c1c"/>
<text transform="translate(210.00,290.80) rotate(22.0)" text-anchor="middle" font-size="10" font-weight="bold" stroke="#222" stroke-width="0.2" dy="0.36em" textLength="29.0" lengthAdjust="spacingAndGlyphs">R1 100</text>
<text transform="translate(113.50,247.80) rotate(0.0)" text-anchor="middle" font-size="9" font-weight="bold" stroke="#222" stroke-width="0.25" dy="0.36em" textLength="36.5" lengthAdjust="spacingAndGlyphs">HL. 30 mm</text>
<line x1="133.80" y1="295.90" x2="185.70" y2="350.90" stroke="#2c2c2c" stroke-width="0.9"/>
<polygon points="133.80,295.90 139.66,300.00 137.55,301.99" fill="#1c1c1c"/>
<polygon points="185.70,350.90 179.84,346.80 181.95,344.81" fill="#1c1c1c"/>
<line x1="111.60" y1="288.50" x2="198.40" y2="377.30" stroke="#2c2c2c" stroke-width="0.9"/>
<polygon points="111.60,288.50 117.53,292.49 115.46,294.52" fill="#1c1c1c"/>
<polygon points="198.40,377.30 192.47,373.31 194.54,371.28" fill="#1c1c1c"/>
<text transform="translate(162.70,318.40) rotate(45.0)" text-anchor="middle" font-size="10" font-weight="bold" stroke="#222" stroke-width="0.2" dy="0.36em" textLength="34.0" lengthAdjust="spacingAndGlyphs">600/680</text>
<text transform="translate(146.60,302.30) rotate(45.0) scale(0.89,1.49)" text-anchor="middle" font-size="20" font-weight="normal" dy="0.345em" style="fill:#222" stroke="#fff" stroke-width="0.65">~</text>
<text transform="translate(157.40,329.00) rotate(45.0)" text-anchor="middle" font-size="10" font-weight="bold" stroke="#222" stroke-width="0.2" dy="0.36em" textLength="34.0" lengthAdjust="spacingAndGlyphs">860/950</text>
<text transform="translate(141.30,312.90) rotate(45.0) scale(0.89,1.49)" text-anchor="middle" font-size="20" font-weight="normal" dy="0.345em" style="fill:#222" stroke="#fff" stroke-width="0.65">~</text>
<rect transform="translate(166.8,365.6) rotate(65.5)" x="-10" y="-4.6" width="20" height="9.2" fill="#fff"/>
<line x1="157.30" y1="360.40" x2="184.50" y2="421.00" stroke="#2c2c2c" stroke-width="0.9"/>
<polygon points="169.60,388.00 165.71,382.62 168.18,381.52" fill="#1c1c1c"/>
<polygon points="179.60,409.60 183.49,414.98 181.02,416.08" fill="#1c1c1c"/>
<text transform="translate(166.80,365.60) rotate(65.5)" text-anchor="middle" font-size="10" font-weight="bold" stroke="#222" stroke-width="0.2" dy="0.36em" textLength="16.0" lengthAdjust="spacingAndGlyphs">140</text>
<path d="M470,34.5 H675.5 Q677.5,34.5 677.5,36.5 V95.6 Q677.5,97.7 675,97.7 H669 V116.4 Q669,118.4 667,118.4 H470 Z" fill="none" stroke="#1c1c1c" stroke-width="1.7" />
<path d="M470,96.2 C472,94.7 476,94.9 480,94.9 H668 L676.5,96.6" fill="none" stroke="#1c1c1c" stroke-width="1.3" />
<path d="M470,96.2 C474,96.6 480,97.7 498,97.7 H669" fill="none" stroke="#1c1c1c" stroke-width="1.3" />
<line x1="454.00" y1="34.60" x2="469.00" y2="34.60" stroke="#8a8a8a" stroke-width="0.8"/>
<line x1="454.00" y1="118.20" x2="469.00" y2="118.20" stroke="#8a8a8a" stroke-width="0.8"/>
<line x1="458.50" y1="34.60" x2="458.50" y2="118.20" stroke="#2c2c2c" stroke-width="0.9"/>
<polygon points="458.50,34.60 459.95,41.60 457.05,41.60" fill="#1c1c1c"/>
<polygon points="458.50,118.20 457.05,111.20 459.95,111.20" fill="#1c1c1c"/>
<text transform="translate(451.50,77.50) rotate(-90.0)" text-anchor="middle" font-size="10" font-weight="bold" stroke="#222" stroke-width="0.2" dy="0.36em" textLength="16.0" lengthAdjust="spacingAndGlyphs">565</text>
<line x1="566.50" y1="0.00" x2="566.50" y2="15.00" stroke="#555" stroke-width="0.9"/>
<line x1="572.00" y1="2.00" x2="586.00" y2="2.00" stroke="#777" stroke-width="0.9"/>
<polygon points="565.60,2.00 573.60,0.35 573.60,3.65" fill="#1c1c1c"/>
<line x1="566.50" y1="136.00" x2="566.50" y2="150.30" stroke="#555" stroke-width="0.9"/>
<line x1="572.00" y1="146.50" x2="586.00" y2="146.50" stroke="#777" stroke-width="0.9"/>
<polygon points="565.60,146.50 573.60,144.85 573.60,148.15" fill="#1c1c1c"/>
<path d="M748.8,35.2 H751.6 Q752.3,35.2 752.3,36 V96.6 H745.2 Q743.6,96.6 743.5,98.2 L743,117.6 H738.8" fill="none" stroke="#1c1c1c" stroke-width="2.0" />
<line x1="733.50" y1="28.80" x2="760.50" y2="28.80" stroke="#2c2c2c" stroke-width="0.9"/>
<polygon points="748.60,28.80 742.10,30.15 742.10,27.45" fill="#1c1c1c"/>
<polygon points="753.20,28.80 759.70,27.45 759.70,30.15" fill="#1c1c1c"/>
<line x1="749.00" y1="26.00" x2="749.00" y2="34.00" stroke="#8a8a8a" stroke-width="0.7"/>
<line x1="753.00" y1="26.00" x2="753.00" y2="34.00" stroke="#8a8a8a" stroke-width="0.7"/>
<text transform="translate(775.50,23.50) rotate(0.0)" text-anchor="middle" font-size="10" font-weight="bold" stroke="#222" stroke-width="0.2" dy="0.36em" textLength="9.5" lengthAdjust="spacingAndGlyphs">25</text>
<line x1="764.50" y1="64.00" x2="764.50" y2="132.50" stroke="#2c2c2c" stroke-width="0.9"/>
<polygon points="764.50,96.60 763.15,90.10 765.85,90.10" fill="#1c1c1c"/>
<polygon points="764.50,118.00 765.85,124.50 763.15,124.50" fill="#1c1c1c"/>
<text transform="translate(757.20,72.30) rotate(-90.0)" text-anchor="middle" font-size="10" font-weight="bold" stroke="#222" stroke-width="0.2" dy="0.36em" textLength="15.0" lengthAdjust="spacingAndGlyphs">140</text>
<line x1="752.00" y1="97.00" x2="788.00" y2="97.00" stroke="#8a8a8a" stroke-width="0.7"/>
<line x1="743.00" y1="118.30" x2="788.00" y2="118.30" stroke="#8a8a8a" stroke-width="0.7"/>
<line x1="783.50" y1="97.00" x2="783.50" y2="118.30" stroke="#2c2c2c" stroke-width="0.9"/>
<polygon points="783.50,97.00 784.95,104.00 782.05,104.00" fill="#1c1c1c"/>
<polygon points="783.50,118.30 782.05,111.30 784.95,111.30" fill="#1c1c1c"/>
<text transform="translate(776.30,107.60) rotate(-90.0)" text-anchor="middle" font-size="10" font-weight="bold" stroke="#222" stroke-width="0.2" dy="0.36em" textLength="14.5" lengthAdjust="spacingAndGlyphs">150</text>
<line x1="743.70" y1="119.00" x2="743.70" y2="144.00" stroke="#8a8a8a" stroke-width="0.7"/>
<line x1="753.00" y1="100.00" x2="753.00" y2="144.00" stroke="#8a8a8a" stroke-width="0.7"/>
<line x1="728.00" y1="140.50" x2="763.00" y2="140.50" stroke="#2c2c2c" stroke-width="0.9"/>
<polygon points="743.40,140.50 736.90,141.85 736.90,139.15" fill="#1c1c1c"/>
<polygon points="752.60,140.50 759.10,139.15 759.10,141.85" fill="#1c1c1c"/>
<text transform="translate(784.50,133.50) rotate(0.0)" text-anchor="middle" font-size="10" font-weight="bold" stroke="#222" stroke-width="0.2" dy="0.36em" textLength="9.5" lengthAdjust="spacingAndGlyphs">60</text>
<line x1="470.00" y1="195.00" x2="470.00" y2="437.00" stroke="#2c2c2c" stroke-width="0.8"/>
<line x1="449.00" y1="214.20" x2="699.00" y2="214.20" stroke="#2c2c2c" stroke-width="0.8"/>
<line x1="470.00" y1="199.40" x2="677.60" y2="199.40" stroke="#2c2c2c" stroke-width="0.9"/>
<polygon points="470.00,199.40 477.00,197.95 477.00,200.85" fill="#1c1c1c"/>
<polygon points="677.60,199.40 670.60,200.85 670.60,197.95" fill="#1c1c1c"/>
<line x1="677.60" y1="195.00" x2="677.60" y2="213.00" stroke="#2c2c2c" stroke-width="0.8"/>
<text transform="translate(573.40,192.60) rotate(0.0)" text-anchor="middle" font-size="10" font-weight="bold" stroke="#222" stroke-width="0.2" dy="0.36em" textLength="40.0" lengthAdjust="spacingAndGlyphs">1400/1500</text>
<line x1="449.00" y1="421.10" x2="467.00" y2="421.10" stroke="#2c2c2c" stroke-width="0.8"/>
<line x1="452.20" y1="213.80" x2="452.20" y2="421.10" stroke="#2c2c2c" stroke-width="0.9"/>
<polygon points="452.20,213.80 453.65,220.80 450.75,220.80" fill="#1c1c1c"/>
<polygon points="452.20,421.10 450.75,414.10 453.65,414.10" fill="#1c1c1c"/>
<text transform="translate(446.00,318.00) rotate(-90.0)" text-anchor="middle" font-size="10" font-weight="bold" stroke="#222" stroke-width="0.2" dy="0.36em" textLength="40.0" lengthAdjust="spacingAndGlyphs">1400/1500</text>
<path d="M674.3,213.8 H678.5 V258.5 A163,163 0 0 1 515.5,421.5 H470.8 V417.3" fill="none" stroke="#1c1c1c" stroke-width="1.7" />
<path d="M675.60,213.80 C675.50,217.33 675.20,227.55 675.00,235.00 C674.80,242.45 674.86,250.45 674.40,258.50 C673.94,266.55 674.22,273.42 672.25,283.33 C670.27,293.23 666.49,307.64 662.55,317.91 C658.61,328.18 654.39,336.12 648.60,344.93 C642.80,353.75 635.57,363.01 627.79,370.79 C620.01,378.57 610.75,385.80 601.93,391.60 C593.12,397.39 585.18,401.61 574.91,405.55 C564.64,409.49 550.23,413.27 540.33,415.25 C530.42,417.22 523.55,416.94 515.50,417.40 C507.45,417.86 499.45,417.80 492.00,418.00 C484.55,418.20 474.33,418.50 470.80,418.60" fill="none" stroke="#1c1c1c" stroke-width="1.55" />
<path d="M675.00,213.80 C674.58,215.17 673.37,218.53 672.50,222.00 C671.63,225.47 670.52,229.93 669.80,234.60 C669.08,239.27 668.52,246.02 668.20,250.00 C667.88,253.98 668.23,253.10 667.90,258.50 C667.57,263.90 667.95,272.81 666.22,282.37 C664.50,291.94 661.19,305.93 657.54,315.89 C653.89,325.85 649.87,333.60 644.32,342.16 C638.77,350.72 631.78,359.73 624.25,367.25 C616.73,374.78 607.72,381.77 599.16,387.32 C590.60,392.87 582.85,396.89 572.89,400.54 C562.93,404.19 548.94,407.50 539.37,409.22 C529.81,410.95 520.90,410.57 515.50,410.90 C510.10,411.23 510.98,410.88 507.00,411.20 C503.02,411.52 496.27,412.08 491.60,412.80 C486.93,413.52 482.47,414.63 479.00,415.50 C475.53,416.37 472.17,417.58 470.80,418.00" fill="none" stroke="#1c1c1c" stroke-width="1.55" />
<path d="M674.30,213.80 C673.73,215.17 671.82,219.47 670.90,222.00 C669.98,224.53 669.62,224.67 668.80,229.00 C667.98,233.33 666.58,243.08 666.00,248.00 C665.42,252.92 665.74,252.85 665.30,258.50 C664.86,264.15 665.19,272.57 663.36,281.92 C661.52,291.26 657.99,304.87 654.30,314.58 C650.61,324.28 646.66,331.80 641.22,340.14 C635.77,348.48 628.98,357.29 621.64,364.64 C614.29,371.98 605.48,378.77 597.14,384.22 C588.80,389.66 581.28,393.61 571.58,397.30 C561.87,400.99 548.26,404.52 538.92,406.36 C529.57,408.19 521.15,407.86 515.50,408.30 C509.85,408.74 509.92,408.42 505.00,409.00 C500.08,409.58 490.33,410.98 486.00,411.80 C481.67,412.62 481.53,412.98 479.00,413.90 C476.47,414.82 472.17,416.73 470.80,417.30" fill="none" stroke="#1c1c1c" stroke-width="1.55" />
<path d="M692.2,215.4 V258.5 A177.8,177.8 0 0 1 515.5,436.3 H470.6" fill="none" stroke="#2c2c2c" stroke-width="0.8" />
<polygon points="692.20,215.40 693.60,222.20 690.80,222.20" fill="#1c1c1c"/>
<polygon points="470.60,436.30 477.40,434.90 477.40,437.70" fill="#1c1c1c"/>
<text transform="translate(649.00,365.20) rotate(-52.0)" text-anchor="middle" font-size="10" font-weight="bold" stroke="#222" stroke-width="0.2" dy="0.36em" textLength="41.5" lengthAdjust="spacingAndGlyphs">2330/2535</text>
</svg>
</body></html>
